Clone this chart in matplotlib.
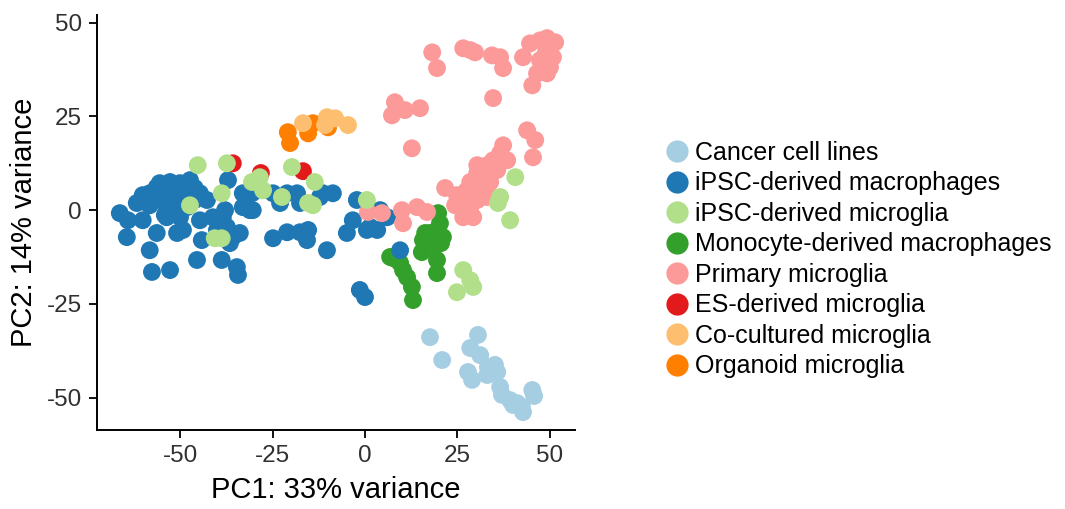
import matplotlib
matplotlib.use("Agg")
import matplotlib.pyplot as plt
from matplotlib.lines import Line2D

plt.rcParams['font.family'] = ['Liberation Sans', 'DejaVu Sans']

# PCA coordinates, one pair of lists per group
cancer_x = [17.6, 20.9, 30.6, 28.5, 31.2, 27.9, 29.0, 33.3, 35.2, 35.8, 33.1, 36.6,
            37.1, 39.3, 41.2, 42.5, 42.8, 45.3, 40.1, 45.8]
cancer_y = [-33.9, -40.0, -33.3, -36.8, -38.7, -43.2, -45.3, -41.9, -41.3, -43.2, -44.0, -47.2,
            -49.3, -50.7, -51.5, -52.5, -53.9, -48.0, -52.0, -49.6]

ipsc_mac_x = [-66.4, -64.2, -64.5, -61.8, -60.2, -58.3, -56.4, -55.6, -54.2, -52.8, -51.5, -50.1,
              -48.8, -47.4, -46.1, -44.7, -42.8, -58.3, -55.6, -52.8, -50.1, -48.2, -54.2, -51.5,
              -53.7, -50.1, -56.4, -50.9, -49.3, -44.7, -41.2, -38.5, -40.1, -58.3, -57.7, -52.8,
              -45.5, -38.8, -34.4, -44.2, -39.3, -35.8, -36.6, -37.1, -33.1, -31.2, -37.9, -37.4,
              -33.9, -32.0, -30.4, -30.6, -33.1, -34.7, -24.9, -23.0, -21.1, -18.4, -17.6, -12.2,
              -11.4, -8.7, -24.9, -21.1, -17.6, -15.4, -15.7, -10.3, -2.2, -3.3, -4.9, 0.5,
              1.4, 3.3, 6.0, 4.1, 9.5, -1.4, 0.0, -60.2, -46.1]
ipsc_mac_y = [-0.8, -2.7, -7.2, 1.9, -2.7, 4.5, 6.1, 7.2, 5.3, 7.5, 5.9, 7.2,
              5.3, 8.0, 5.9, 4.5, 2.7, 1.3, 2.7, 1.9, 2.7, 0.8, -1.3, -0.8,
              -1.9, -1.9, -6.1, -6.1, -5.3, -2.7, -1.9, -1.9, -5.3, -10.7, -16.5, -16.0,
              -13.3, -13.3, -17.3, -8.0, -5.3, -7.2, -8.8, 8.0, 4.5, 0.0, 0.0, -4.5,
              -6.1, 3.5, 0.0, 4.5, 0.8, -15.2, 4.5, 1.9, 4.5, 4.5, 1.9, 3.5,
              4.5, 4.5, -7.5, -5.9, -5.9, -5.3, -8.0, -10.7, 2.7, -2.7, -6.1, -5.3,
              -4.5, -5.3, -1.9, 0.0, -10.7, -21.3, -23.2, 4.0, 2.7]

ipsc_mg_x = [-45.3, -37.4, -38.8, -47.4, -40.7, -38.8, -28.5, -30.6, -27.6, -19.8, -13.6, -22.5,
             -15.4, 0.5, 40.7, 36.6, 36.0, 39.3, 26.6, 28.5, 29.3, 24.9, -14.1]
ipsc_mg_y = [12.0, 12.5, 4.5, 1.3, -7.5, -7.5, 8.8, 7.5, 5.3, 11.5, 7.5, 3.5,
             1.9, 2.7, 8.8, 3.5, 1.9, -2.7, -16.0, -18.7, -20.5, -21.9, 1.3]

mono_x = [19.8, 20.3, 19.5, 17.6, 16.3, 21.1, 15.7, 15.4, 19.5, 19.5, 7.6, 9.5,
          10.3, 11.4, 12.7, 13.0, 6.8, 18.2, 20.6]
mono_y = [-0.8, -3.5, -5.3, -6.1, -6.1, -7.2, -8.0, -11.2, -13.3, -16.8, -12.8, -14.1,
          -16.0, -17.9, -20.5, -24.0, -12.5, -9.3, -8.8]

primary_x = [18.2, 19.5, 26.6, 28.5, 29.8, 34.4, 36.6, 37.4, 42.8, 44.7, 49.3, 50.1,
             50.9, 50.1, 49.3, 46.6, 45.3, 47.4, 51.5, 48.8, 47.4, 34.7, 10.8, 14.9,
             8.1, 7.3, 12.7, 43.9, 46.1, 45.5, 37.4, 36.6, 34.7, 38.5, 33.1, 30.4,
             30.4, 33.1, 35.8, 28.5, 31.2, 33.9, 27.6, 30.4, 33.1, 21.7, 24.9, 27.6,
             30.4, 33.1, 26.6, 28.5, 26.6, 29.3, 0.8, 4.6, 10.0, 14.1, 16.8, 10.3, 24.4]
primary_y = [42.1, 37.9, 43.2, 42.7, 42.1, 41.3, 40.8, 37.9, 40.8, 44.5, 45.9, 43.5,
             40.8, 38.1, 36.5, 36.5, 33.3, 45.3, 44.8, 41.6, 40.0, 29.9, 26.7, 27.2,
             28.8, 25.3, 16.5, 21.3, 18.7, 14.1, 17.3, 15.2, 13.3, 13.3, 12.0, 12.0,
             9.9, 9.9, 10.7, 7.5, 7.5, 7.5, 5.3, 4.8, 4.8, 5.9, 4.0, 2.7,
             2.7, 3.5, 0.8, 0.8, -1.9, -1.9, -0.5, -0.8, 0.0, 0.8, -0.5, -3.5, 1.3]

es_x = [-35.8, -28.2, -16.8]
es_y = [12.5, 9.9, 10.4]

cocult_x = [-16.8, -10.3, -8.1, -4.6, -10.8]
cocult_y = [23.2, 24.8, 24.5, 22.7, 22.7]

organoid_x = [-20.9, -20.3, -15.4, -14.1, -10.0]
organoid_y = [20.8, 17.9, 20.5, 23.2, 22.1]

labels = ["Cancer cell lines", "iPSC-derived macrophages", "iPSC-derived microglia",
          "Monocyte-derived macrophages", "Primary microglia", "ES-derived microglia",
          "Co-cultured microglia", "Organoid microglia"]
colors = ["#A6CEE3", "#1F78B4", "#B2DF8A", "#33A02C", "#FB9A99", "#E31A1C", "#FDBF6F", "#FF7F00"]

groups = {
    "Cancer cell lines": (cancer_x, cancer_y),
    "iPSC-derived macrophages": (ipsc_mac_x, ipsc_mac_y),
    "iPSC-derived microglia": (ipsc_mg_x, ipsc_mg_y),
    "Monocyte-derived macrophages": (mono_x, mono_y),
    "Primary microglia": (primary_x, primary_y),
    "ES-derived microglia": (es_x, es_y),
    "Co-cultured microglia": (cocult_x, cocult_y),
    "Organoid microglia": (organoid_x, organoid_y),
}
# drawing order (which colour ends up on top)
draw_order = ["Monocyte-derived macrophages", "iPSC-derived macrophages", "ES-derived microglia",
              "Primary microglia", "iPSC-derived microglia", "Organoid microglia",
              "Co-cultured microglia", "Cancer cell lines"]

fig = plt.figure(figsize=(10.65, 5.09), dpi=100)
ax = fig.add_axes([0.091, 0.155, 0.449, 0.815])

for name in draw_order:
    xs, ys = groups[name]
    c = colors[labels.index(name)]
    ax.scatter(xs, ys, s=165, color=c, edgecolors="none", zorder=2)

ax.set_xlim(-72.6, 56.9)
ax.set_ylim(-58.7, 52)
ax.set_xticks([-50, -25, 0, 25, 50])
ax.set_yticks([-50, -25, 0, 25, 50])
ax.set_xticklabels(["-50", "-25", "0", "25", "50"])
ax.set_yticklabels(["-50", "-25", "0", "25", "50"])
ax.tick_params(labelsize=17.5, length=6, width=1.3, colors="black", pad=5)
for t in ax.get_xticklabels() + ax.get_yticklabels():
    t.set_color("#303030")
for side in ["top", "right"]:
    ax.spines[side].set_visible(False)
for side in ["left", "bottom"]:
    ax.spines[side].set_linewidth(1.4)

ax.set_xlabel("PC1: 33% variance", fontsize=21, labelpad=6)
ax.set_ylabel("PC2: 14% variance", fontsize=21, labelpad=6)

handles = [Line2D([0], [0], marker="o", linestyle="none", markersize=16,
                  markerfacecolor=c, markeredgecolor="none") for c in colors]
fig.legend(handles, labels, loc="center left", bbox_to_anchor=(0.612, 0.49),
           frameon=False, fontsize=18, handletextpad=0.12, labelspacing=0.26,
           borderaxespad=0, handlelength=1.2)

fig.savefig("out.png", dpi=100)
